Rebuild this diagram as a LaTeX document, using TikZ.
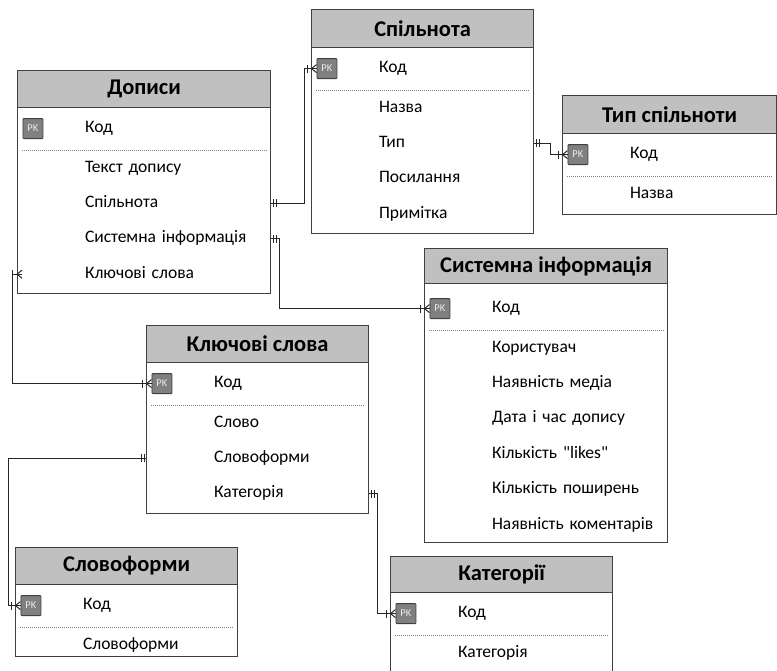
\documentclass[tikz,border=0pt]{standalone}
\usepackage{fontspec}
\setmainfont{Carlito}
\usetikzlibrary{positioning,decorations.markings}

\definecolor{headgray}{RGB}{192,192,192}
\definecolor{framegray}{RGB}{64,64,64}
\definecolor{keygray}{RGB}{128,128,128}

\begin{document}
\begin{tikzpicture}[x=1pt, y=-1pt, node distance=0pt,
	tbl/.style={draw=framegray, line width=1.2pt, anchor=north west, inner sep=0pt},
	hd/.style={tbl, fill=headgray, minimum height=37pt, font=\fontsize{22.5}{24}\selectfont\bfseries},
	pk/.style={draw=framegray, fill=keygray, line width=0.8pt, minimum size=20pt, inner sep=0pt, rounded corners=0.8pt, text=white!92!black, font=\fontsize{10.5}{11}\selectfont},
	fl/.style={inner sep=0pt, text width=200pt, minimum height=35pt, text height=8pt, text depth=0pt, font=\fontsize{17.5}{20}\selectfont},
	dots/.style={draw=gray, line width=0.6pt, dash pattern=on 1pt off 1pt},
	rel/.style={draw=black!85, line width=1pt},
	one/.style={postaction={decorate, decoration={markings,
		mark=at position 2pt with {\draw[rel] (0pt,-4pt) -- (0pt,4pt);},
		mark=at position 5pt with {\draw[rel] (0pt,-4pt) -- (0pt,4pt);}}}},
	many/.style={postaction={decorate, decoration={markings,
		mark=at position -9pt with {\draw[rel] (0pt,-4pt) -- (0pt,4pt);},
		mark=at position 1 with {\draw[rel] (0pt,4pt) -- (-5pt,0pt) -- (0pt,-4pt);}}}},
	manystart/.style={postaction={decorate, decoration={markings,
		mark=at position 0 with {\draw[rel] (0pt,4pt) -- (5pt,0pt) -- (0pt,-4pt);},
		mark=at position 9.5pt with {\draw[rel] (0pt,-4pt) -- (0pt,4pt);}}}}]
	\useasboundingbox (0,0) rectangle (777,670);
	\clip (0,0) rectangle (777,670);

	% Дописи
	\node[tbl, minimum width=253pt, minimum height=223pt] (dBox) at (17,70) {};
	\node[hd, minimum width=253pt] (dHd) at (17,70) {Дописи};
	\node[pk, below right=10pt and 5.5pt of dHd.south west] (dPK) {PK};
	\node[fl, right=41.5pt of dPK] (dKod) {Код};
	\node[fl, below=4pt of dKod] (dText) {Текст допису};
	\node[fl, below=of dText] (dSpil) {Спільнота};
	\node[fl, below=of dSpil] (dSys) {Системна інформація};
	\node[fl, below=of dSys] (dKey) {Ключові слова};
	\draw[dots] ([xshift=5pt]dBox.west |- dText.north) -- ([xshift=-5pt]dBox.east |- dText.north);

	% Спільнота
	\node[tbl, minimum width=222pt, minimum height=224pt] (sBox) at (311,9) {};
	\node[hd, minimum width=222pt, minimum height=38pt] (sHd) at (311,9) {Спільнота};
	\node[pk, below right=10pt and 5.5pt of sHd.south west] (sPK) {PK};
	\node[fl, right=41.5pt of sPK] (sKod) {Код};
	\node[fl, below=4pt of sKod] (sName) {Назва};
	\node[fl, below=of sName] (sType) {Тип};
	\node[fl, below=of sType] (sLink) {Посилання};
	\node[fl, below=of sLink] (sNote) {Примітка};
	\draw[dots] ([xshift=5pt]sBox.west |- sName.north) -- ([xshift=-5pt]sBox.east |- sName.north);

	% Тип спільноти
	\node[tbl, minimum width=214pt, minimum height=119pt] (tBox) at (562,95) {};
	\node[hd, minimum width=214pt, minimum height=38pt] (tHd) at (562,95) {Тип спільноти};
	\node[pk, below right=10pt and 5.5pt of tHd.south west] (tPK) {PK};
	\node[fl, right=41.5pt of tPK] (tKod) {Код};
	\node[fl, below=4pt of tKod] (tName) {Назва};
	\draw[dots] ([xshift=5pt]tBox.west |- tName.north) -- ([xshift=-5pt]tBox.east |- tName.north);

	% Системна інформація
	\node[tbl, minimum width=243pt, minimum height=294pt] (iBox) at (424,248) {};
	\node[hd, minimum width=243pt, minimum height=35pt] (iHd) at (424,248) {Системна інформація};
	\node[pk, below right=14pt and 5.5pt of iHd.south west] (iPK) {PK};
	\node[fl, right=41.5pt of iPK] (iKod) {Код};
	\node[fl, below=4pt of iKod] (iUser) {Користувач};
	\node[fl, below=of iUser] (iMedia) {Наявність медіа};
	\node[fl, below=of iMedia] (iDate) {Дата і час допису};
	\node[fl, below=of iDate] (iLikes) {Кількість \textquotedbl likes\textquotedbl};
	\node[fl, below=of iLikes] (iShare) {Кількість поширень};
	\node[fl, below=of iShare] (iComm) {Наявність коментарів};
	\draw[dots] ([xshift=5pt]iBox.west |- iUser.north) -- ([xshift=-5pt]iBox.east |- iUser.north);

	% Ключові слова
	\node[tbl, minimum width=222pt, minimum height=188pt] (kBox) at (146,325) {};
	\node[hd, minimum width=222pt] (kHd) at (146,325) {Ключові слова};
	\node[pk, below right=10pt and 5.5pt of kHd.south west] (kPK) {PK};
	\node[fl, right=41.5pt of kPK] (kKod) {Код};
	\node[fl, below=4pt of kKod] (kWord) {Слово};
	\node[fl, below=of kWord] (kForms) {Словоформи};
	\node[fl, below=of kForms] (kCat) {Категорія};
	\draw[dots] ([xshift=5pt]kBox.west |- kWord.north) -- ([xshift=-5pt]kBox.east |- kWord.north);

	% Словоформи
	\node[tbl, minimum width=222pt, minimum height=109pt] (fBox) at (15,547) {};
	\node[hd, minimum width=222pt] (fHd) at (15,547) {Словоформи};
	\node[pk, below right=10pt and 5.5pt of fHd.south west] (fPK) {PK};
	\node[fl, right=41.5pt of fPK] (fKod) {Код};
	\node[fl, below=4pt of fKod] (fForms) {Словоформи};
	\draw[dots] ([xshift=5pt]fBox.west |- fForms.north) -- ([xshift=-5pt]fBox.east |- fForms.north);

	% Категорії
	\node[tbl, minimum width=222pt, minimum height=120pt] (cBox) at (390,556) {};
	\node[hd, minimum width=222pt, minimum height=36pt] (cHd) at (390,556) {Категорії};
	\node[pk, below right=10pt and 5.5pt of cHd.south west] (cPK) {PK};
	\node[fl, right=41.5pt of cPK] (cKod) {Код};
	\node[fl, below=4pt of cKod] (cName) {Категорія};
	\draw[dots] ([xshift=5pt]cBox.west |- cName.north) -- ([xshift=-5pt]cBox.east |- cName.north);

	% зв'язки
	\draw[rel, one, many] (dBox.east |- dSpil) -- ++(33,0) |- (sPK.west);
	\draw[rel, one, many] (dBox.east |- dSys) -- ++(8,0) |- (iPK.west);
	\draw[rel, manystart, many] ([xshift=5pt]dBox.west |- dKey) -- ++(-10,0) |- (kPK.west);
	\draw[rel, one, many] (kBox.west |- kForms) -- ++(-138,0) |- (fPK.west);
	\draw[rel, one, many] (kBox.east |- kCat) -- ++(8,0) |- (cPK.west);
	\draw[rel, one, many] (sBox.east |- sType) -- ++(16,0) |- (tPK.west);
\end{tikzpicture}
\end{document}
